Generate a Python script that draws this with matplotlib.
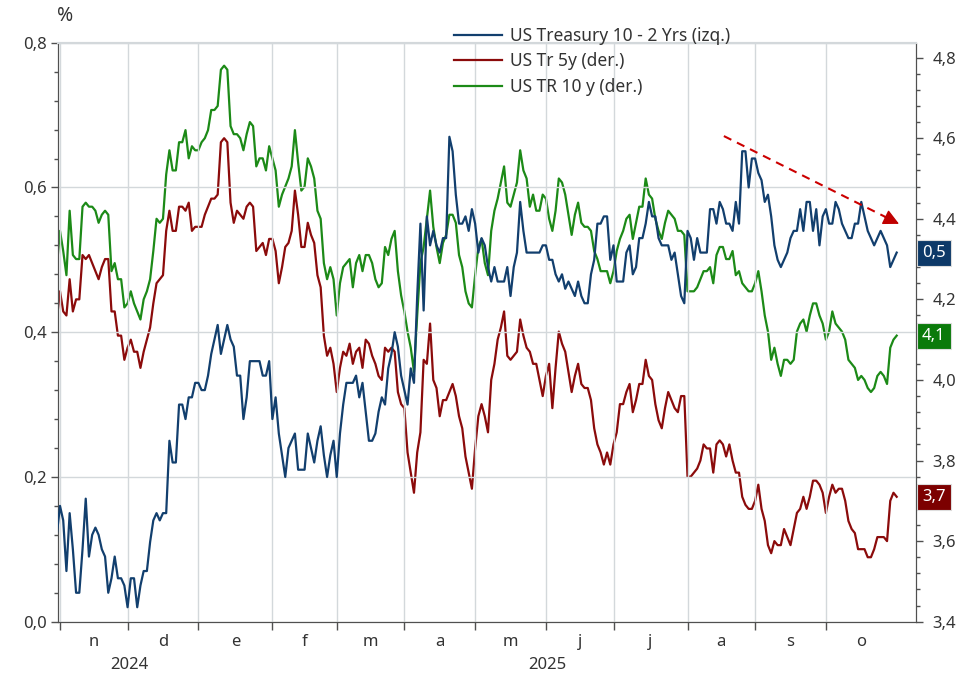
import matplotlib
matplotlib.use("Agg")
import matplotlib.pyplot as plt
from matplotlib.ticker import FixedLocator, MultipleLocator, FuncFormatter
import matplotlib.transforms as mtransforms
import numpy as np
import pandas as pd

plt.rcParams['font.family'] = ['Noto Sans', 'DejaVu Sans']

# daily values (business days), first point = 31 Oct 2024
spread_10_2 = [
    0.12, 0.16, 0.14, 0.07, 0.15, 0.10, 0.04, 0.04, 0.10, 0.17, 0.09,
    0.12, 0.13, 0.12, 0.10, 0.09, 0.04, 0.06, 0.09, 0.06, 0.06,
    0.05, 0.02, 0.06, 0.06, 0.02, 0.05, 0.07, 0.07, 0.11, 0.14,
    0.15, 0.14, 0.15, 0.15, 0.25, 0.22, 0.22, 0.30, 0.30, 0.28,
    0.31, 0.31, 0.33, 0.33, 0.32, 0.32, 0.34, 0.37, 0.39, 0.41,
    0.37, 0.39, 0.41, 0.39, 0.38, 0.34, 0.34, 0.28, 0.31, 0.36,
    0.36, 0.36, 0.36, 0.34, 0.34, 0.36, 0.28, 0.31, 0.26, 0.23,
    0.20, 0.24, 0.25, 0.26, 0.21, 0.21, 0.21, 0.26, 0.24, 0.22,
    0.25, 0.27, 0.23, 0.20, 0.23, 0.25, 0.20, 0.26, 0.30, 0.33,
    0.33, 0.33, 0.34, 0.31, 0.33, 0.29, 0.25, 0.25, 0.26, 0.29,
    0.31, 0.30, 0.35, 0.37, 0.40, 0.38, 0.34, 0.32, 0.30, 0.35,
    0.33, 0.45, 0.55, 0.43, 0.56, 0.52, 0.54, 0.52, 0.51, 0.53,
    0.53, 0.67, 0.65, 0.59, 0.55, 0.55, 0.56, 0.54, 0.57, 0.55,
    0.51, 0.53, 0.52, 0.49, 0.47, 0.49, 0.47, 0.47, 0.47, 0.49,
    0.45, 0.49, 0.51, 0.58, 0.54, 0.51, 0.51, 0.51, 0.51, 0.51,
    0.52, 0.52, 0.50, 0.50, 0.48, 0.47, 0.48, 0.46, 0.47, 0.46,
    0.45, 0.47, 0.45, 0.44, 0.44, 0.48, 0.50, 0.55, 0.55, 0.56,
    0.56, 0.50, 0.52, 0.47, 0.47, 0.47, 0.51, 0.52, 0.48, 0.49,
    0.53, 0.53, 0.55, 0.58, 0.56, 0.56, 0.53, 0.52, 0.52, 0.52,
    0.50, 0.51, 0.48, 0.45, 0.44, 0.54, 0.53, 0.50, 0.53, 0.51,
    0.51, 0.51, 0.57, 0.57, 0.55, 0.58, 0.57, 0.55, 0.55, 0.54,
    0.58, 0.55, 0.65, 0.65, 0.60, 0.64, 0.64, 0.62, 0.61, 0.58,
    0.59, 0.56, 0.52, 0.50, 0.49, 0.50, 0.51, 0.53, 0.54, 0.54,
    0.57, 0.54, 0.58, 0.58, 0.54, 0.57, 0.52, 0.56, 0.57, 0.55,
    0.55, 0.58, 0.57, 0.55, 0.54, 0.53, 0.53, 0.55, 0.55, 0.58,
    0.56, 0.54, 0.53, 0.52, 0.53, 0.54, 0.53, 0.52, 0.49, 0.50, 0.51,
]

tr_5y = [
    4.15, 4.22, 4.17, 4.16, 4.25, 4.17, 4.20, 4.20, 4.31, 4.30, 4.31,
    4.29, 4.27, 4.25, 4.28, 4.30, 4.30, 4.17, 4.17, 4.11, 4.11,
    4.05, 4.08, 4.10, 4.07, 4.07, 4.03, 4.07, 4.10, 4.13, 4.19,
    4.24, 4.25, 4.26, 4.37, 4.42, 4.37, 4.37, 4.43, 4.43, 4.42,
    4.44, 4.37, 4.38, 4.38, 4.38, 4.41, 4.43, 4.45, 4.45, 4.46,
    4.59, 4.60, 4.59, 4.44, 4.39, 4.42, 4.41, 4.40, 4.43, 4.44,
    4.43, 4.32, 4.33, 4.34, 4.31, 4.35, 4.35, 4.32, 4.24, 4.28,
    4.33, 4.34, 4.37, 4.47, 4.41, 4.33, 4.33, 4.39, 4.36, 4.34,
    4.26, 4.23, 4.11, 4.06, 4.08, 4.04, 3.97, 4.03, 4.07, 4.06,
    4.09, 4.04, 4.07, 4.08, 4.03, 4.10, 4.09, 4.06, 4.04, 4.01,
    4.00, 4.08, 4.07, 4.08, 4.07, 3.97, 3.94, 3.93, 3.82, 3.77,
    3.72, 3.82, 3.87, 4.05, 4.04, 4.14, 4.00, 3.98, 3.91, 3.95,
    3.95, 3.97, 3.99, 3.96, 3.91, 3.88, 3.81, 3.77, 3.73, 3.83,
    3.91, 3.94, 3.91, 3.87, 4.00, 4.04, 4.10, 4.13, 4.17, 4.06,
    4.05, 4.06, 4.07, 4.15, 4.11, 4.08, 4.07, 4.04, 4.04, 4.00,
    3.96, 4.01, 4.04, 3.93, 4.03, 4.12, 4.09, 4.07, 4.02, 3.97,
    4.01, 4.04, 3.99, 3.98, 3.98, 3.95, 3.88, 3.84, 3.82, 3.79,
    3.82, 3.79, 3.84, 3.87, 3.94, 3.94, 3.97, 3.99, 3.92, 3.95,
    3.99, 3.99, 4.05, 4.01, 4.00, 3.94, 3.90, 3.88, 3.93, 3.97,
    3.95, 3.93, 3.92, 3.96, 3.96, 3.76, 3.76, 3.77, 3.78, 3.80,
    3.84, 3.83, 3.83, 3.77, 3.84, 3.85, 3.84, 3.81, 3.84, 3.80,
    3.77, 3.77, 3.71, 3.69, 3.68, 3.68, 3.70, 3.74, 3.68, 3.65,
    3.59, 3.57, 3.60, 3.59, 3.59, 3.63, 3.61, 3.59, 3.63, 3.67,
    3.68, 3.71, 3.68, 3.71, 3.75, 3.75, 3.74, 3.72, 3.67, 3.71,
    3.74, 3.72, 3.73, 3.73, 3.70, 3.65, 3.63, 3.62, 3.58, 3.58,
    3.58, 3.56, 3.56, 3.58, 3.61, 3.61, 3.61, 3.60, 3.70, 3.72, 3.71,
]

tr_10y = [
    4.28, 4.37, 4.32, 4.26, 4.42, 4.31, 4.30, 4.30, 4.43, 4.44, 4.43,
    4.43, 4.42, 4.39, 4.41, 4.42, 4.41, 4.27, 4.29, 4.25, 4.25,
    4.18, 4.19, 4.22, 4.19, 4.17, 4.15, 4.20, 4.22, 4.25, 4.32,
    4.40, 4.39, 4.40, 4.51, 4.57, 4.52, 4.52, 4.59, 4.59, 4.62,
    4.55, 4.58, 4.57, 4.57, 4.59, 4.60, 4.62, 4.67, 4.67, 4.68,
    4.77, 4.78, 4.77, 4.63, 4.61, 4.61, 4.60, 4.57, 4.61, 4.64,
    4.63, 4.53, 4.55, 4.55, 4.52, 4.58, 4.55, 4.52, 4.43, 4.46,
    4.48, 4.50, 4.53, 4.62, 4.54, 4.47, 4.48, 4.55, 4.53, 4.50,
    4.42, 4.40, 4.29, 4.25, 4.28, 4.25, 4.16, 4.24, 4.28, 4.29,
    4.30, 4.23, 4.29, 4.31, 4.27, 4.31, 4.31, 4.29, 4.25, 4.23,
    4.24, 4.33, 4.31, 4.35, 4.37, 4.27, 4.21, 4.17, 4.12, 4.08,
    4.02, 4.16, 4.29, 4.33, 4.40, 4.47, 4.38, 4.33, 4.29, 4.34,
    4.36, 4.41, 4.41, 4.39, 4.31, 4.28, 4.22, 4.19, 4.18, 4.26,
    4.33, 4.35, 4.29, 4.26, 4.37, 4.42, 4.45, 4.49, 4.53, 4.44,
    4.43, 4.46, 4.49, 4.57, 4.52, 4.50, 4.43, 4.46, 4.42, 4.42,
    4.46, 4.45, 4.40, 4.37, 4.42, 4.50, 4.49, 4.46, 4.41, 4.36,
    4.41, 4.44, 4.39, 4.38, 4.38, 4.37, 4.32, 4.30, 4.27, 4.27,
    4.27, 4.24, 4.27, 4.32, 4.35, 4.37, 4.40, 4.41, 4.35, 4.39,
    4.43, 4.43, 4.50, 4.46, 4.45, 4.40, 4.37, 4.35, 4.39, 4.42,
    4.41, 4.40, 4.37, 4.37, 4.36, 4.22, 4.22, 4.22, 4.23, 4.25,
    4.27, 4.27, 4.28, 4.24, 4.31, 4.33, 4.33, 4.30, 4.30, 4.32,
    4.26, 4.27, 4.24, 4.23, 4.22, 4.22, 4.24, 4.27, 4.22, 4.16,
    4.12, 4.05, 4.08, 4.04, 4.01, 4.05, 4.05, 4.04, 4.05, 4.12,
    4.14, 4.15, 4.12, 4.16, 4.19, 4.19, 4.16, 4.14, 4.10, 4.12,
    4.17, 4.14, 4.13, 4.12, 4.10, 4.05, 4.04, 4.03, 4.00, 4.01,
    4.00, 3.98, 3.97, 3.98, 4.01, 4.02, 4.01, 3.99, 4.08, 4.10, 4.11,
]

labels = ['US Treasury 10 - 2 Yrs (izq.)', 'US Tr 5y (der.)', 'US TR 10 y (der.)']
month_letters = ['n', 'd', 'e', 'f', 'm', 'a', 'm', 'j', 'j', 'a', 's', 'o']
years = ['2024', '2025']

dates = pd.bdate_range('2024-10-31', periods=len(spread_10_2))
x = np.arange(len(dates))

blue = '#123f6e'
red = '#8b0b0b'
green = '#1c8a17'
grid_c = '#d3d8db'
spine_c = '#505050'
txt_c = '#333333'
fs = 12

fig = plt.figure(figsize=(9.71, 6.78), dpi=100)
ax = fig.add_axes([58 / 971, 1 - 621.7 / 678, (916 - 58) / 971, (621.7 - 42.7) / 678])
ax2 = ax.twinx()

l1, = ax.plot(x, spread_10_2, color=blue, lw=1.6, zorder=3)
l2, = ax2.plot(x, tr_5y, color=red, lw=1.6)
l3, = ax2.plot(x, tr_10y, color=green, lw=1.6)
ax.set_zorder(2)
ax.patch.set_visible(False)

ax.set_xlim(0.38, 267)
ax.set_ylim(0, 0.8)
ax2.set_ylim(3.4, 4.837)

comma = FuncFormatter(lambda v, p: f'{v:.1f}'.replace('.', ','))
ax.yaxis.set_major_locator(MultipleLocator(0.2))
ax.yaxis.set_minor_locator(MultipleLocator(0.04))
ax.yaxis.set_major_formatter(comma)
ax2.yaxis.set_major_locator(FixedLocator(np.arange(3.4, 4.81, 0.2)))
ax2.yaxis.set_minor_locator(MultipleLocator(0.04))
ax2.yaxis.set_major_formatter(comma)

# month boundaries and labels
starts = [i for i in range(1, len(dates)) if dates[i].month != dates[i - 1].month]
edges = starts + [len(dates) - 1]
mids = [(edges[k] + edges[k + 1]) / 2 for k in range(len(edges) - 1)]
ax.xaxis.set_major_locator(FixedLocator(starts))
ax.xaxis.set_major_formatter(FuncFormatter(lambda v, p: ''))
ax.xaxis.set_minor_locator(FixedLocator(mids))
ax.xaxis.set_minor_formatter(FuncFormatter(lambda v, p: month_letters[mids.index(v)] if v in mids else ''))

ax.grid(True, axis='both', which='major', color=grid_c, lw=1)
ax.tick_params(axis='x', which='major', length=6, width=1, color=spine_c)
ax.tick_params(axis='x', which='minor', length=0, pad=9, labelsize=fs, labelcolor=txt_c)
ax.tick_params(axis='y', which='major', length=5, width=1, color=spine_c, labelsize=fs, labelcolor=txt_c, pad=3)
ax.tick_params(axis='y', which='minor', length=3, width=1, color=spine_c)
ax2.tick_params(axis='y', which='major', length=5, width=1, color=spine_c, labelsize=fs, labelcolor=txt_c, pad=7)
ax2.tick_params(axis='y', which='minor', length=3, width=1, color=spine_c)

for a in (ax, ax2):
    a.spines['top'].set_color(grid_c)
    a.spines['top'].set_linewidth(1.5)
    for s in ('left', 'right', 'bottom'):
        a.spines[s].set_color(spine_c)

# year labels
jan = starts[2]
xt = ax.get_xaxis_transform()
ax.text((starts[0] + jan) / 2, -0.075, years[0], transform=xt, ha='center', va='center',
        fontsize=fs, color=txt_c)
ax.text((jan + len(dates) - 1) / 2, -0.075, years[1], transform=xt, ha='center', va='center',
        fontsize=fs, color=txt_c)

fig.text(57 / 971, 1 - 16 / 678, '%', fontsize=14, color=txt_c, va='center', ha='left')

# last value boxes
bt = mtransforms.blended_transform_factory(ax.transAxes, ax.transData)
bt2 = mtransforms.blended_transform_factory(ax2.transAxes, ax2.transData)
box_specs = [
    (bt, spread_10_2[-1], '#0d3968'),
    (bt2, tr_10y[-1], '#0a7a0a'),
    (bt2, tr_5y[-1], '#7c0000'),
]
for tr, val, col in box_specs:
    ax2.text(1.007, val, f'{val:.1f}'.replace('.', ','), transform=tr, ha='left', va='center',
             fontsize=fs, color='white', clip_on=False, zorder=10,
             bbox=dict(boxstyle='square,pad=0.3', fc=col, ec='#dddddd', lw=0.8))

# trend arrow
ax.plot([207.3, 258.5], [0.671, 0.557], color='#cc0000', lw=1.5, ls=(0, (4, 3)), zorder=4)
ax.annotate('', xy=(262.5, 0.548), xytext=(256.5, 0.561),
            arrowprops=dict(arrowstyle='-|>', color='#c00000', lw=1, mutation_scale=24),
            zorder=4)

fig.legend([l1, l2, l3], labels, loc='upper left', bbox_to_anchor=(454 / 971, 1 - 27 / 678),
           frameon=False, fontsize=12.5, handlelength=2.75, handletextpad=0.45,
           labelspacing=0.42, borderpad=0, borderaxespad=0, labelcolor=txt_c)

fig.savefig('out.png', dpi=100)
